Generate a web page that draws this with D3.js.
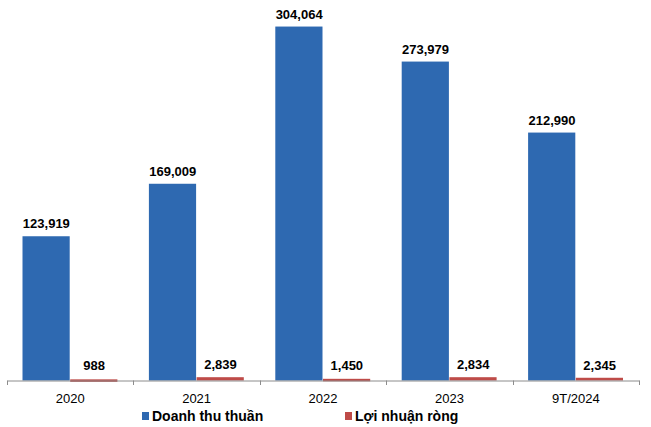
<!DOCTYPE html>
<html><head><meta charset="utf-8">
<script src="https://cdn.jsdelivr.net/npm/d3@7"></script>
<style>body{margin:0;background:#fff}svg{display:block}</style>
</head><body>
<svg id="c" width="651" height="427"></svg>
<script>
const categories = ["2020","2021","2022","2023","9T/2024"];
const revenue = [123919,169009,304064,273979,212990];
const profit = [988,2839,1450,2834,2345];
const seriesNames = ["Doanh thu thuần","Lợi nhuận ròng"];
const colors = ["#2E69B1","#BE4B48"];

const svg = d3.select("#c");
const font = "'Liberation Sans', Arial, sans-serif";
const x = d3.scaleBand().domain(categories).range([7,639]).paddingInner(0).paddingOuter(0);
const inner = d3.scaleBand().domain([0,1]).range([15.5, x.bandwidth()-15.5]).padding(0);
const y = d3.scaleLinear().domain([0,320000]).range([380.5,8]);

const data = categories.map((c,i)=>({c, vals:[revenue[i],profit[i]]}));
const g = svg.append("g");
const groups = g.selectAll("g.grp").data(data).join("g").attr("transform",d=>`translate(${x(d.c)},0)`);
groups.selectAll("rect").data(d=>d.vals.map((v,k)=>({v,k}))).join("rect")
  .attr("x",d=>inner(d.k)).attr("width",inner.bandwidth()-0.5)
  .attr("y",d=>y(d.v)).attr("height",d=>Math.max(2.5,y(0)-y(d.v)))
  .attr("fill",d=>colors[d.k]);
groups.selectAll("text").data(d=>d.vals.map((v,k)=>({v,k}))).join("text")
  .attr("x",d=>inner(d.k)+inner.bandwidth()/2)
  .attr("y",d=>Math.min(y(d.v),378)-8)
  .attr("text-anchor","middle").attr("font-family",font).attr("font-weight","bold").attr("font-size","13px")
  .attr("fill","#000").text(d=>d3.format(",")(d.v));

// axis
const axis = d3.axisBottom(x).tickSize(0).tickPadding(10);
const ax = svg.append("g").attr("transform","translate(0,380.5)").call(axis);
ax.select(".domain").attr("stroke","#8c8c8c");
ax.selectAll("text").attr("font-family",font).attr("font-size","13px").attr("fill","#000").attr("dy","0.95em");
// tick marks at band boundaries
const bounds = categories.map(c=>x(c)).concat([x(categories[categories.length-1])+x.bandwidth()]);
svg.append("g").selectAll("line").data(bounds).join("line")
  .attr("x1",d=>Math.round(d)+0.5).attr("x2",d=>Math.round(d)+0.5)
  .attr("y1",380.5).attr("y2",385).attr("stroke","#8c8c8c");

// legend
const legend = [{x:142,name:seriesNames[0],c:colors[0]},{x:345,name:seriesNames[1],c:colors[1]}];
const lg = svg.append("g").selectAll("g").data(legend).join("g").attr("transform",d=>`translate(${d.x},0)`);
lg.append("rect").attr("x",0).attr("y",412).attr("width",7).attr("height",8).attr("fill",d=>d.c);
lg.append("text").attr("x",10).attr("y",421).attr("font-family",font).attr("font-weight","bold").attr("font-size","14px").attr("fill","#000").text(d=>d.name);
</script>
</body></html>
